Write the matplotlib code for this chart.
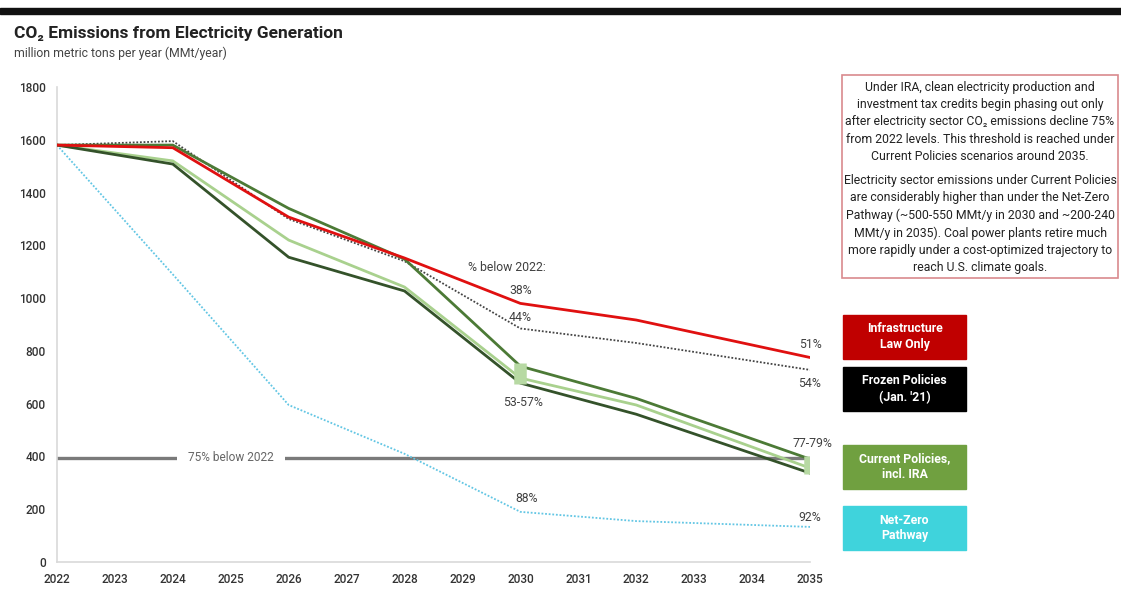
import matplotlib.pyplot as plt
from matplotlib.patches import Rectangle

plt.rcParams["font.family"] = ["Roboto", "DejaVu Sans"]

anos = [2022, 2024, 2026, 2028, 2030, 2032, 2035]
infra_ley = [1580, 1570, 1307, 1152, 980, 917, 775]
congeladas = [1580, 1595, 1300, 1140, 885, 830, 728]
actuales_alto = [1580, 1580, 1340, 1148, 742, 620, 390]
actuales_medio = [1580, 1520, 1220, 1042, 697, 595, 356]
actuales_bajo = [1580, 1508, 1155, 1027, 678, 560, 337]
cero_neto = [1580, 1090, 595, 410, 190, 155, 133]
umbral_75 = 395

fig = plt.figure(figsize=(11.21, 6.01), dpi=100)
ax = fig.add_axes([0.0508, 0.0649, 0.6718, 0.7903])

# franja negra superior
fig.patches.append(Rectangle((0, 0.976), 1, 0.011, transform=fig.transFigure,
                             color="#111111", zorder=0))

ax.plot([2022, 2035], [umbral_75, umbral_75], color="#7a7a7a", lw=2.4, zorder=1)
ax.text(2025, umbral_75, "75% below 2022", ha="center", va="center", fontsize=8.6,
        color="#666666", bbox=dict(facecolor="white", edgecolor="none", pad=8), zorder=2)

ax.plot(anos, cero_neto, color="#62c6e4", lw=1.3, ls=(0, (1, 1)), zorder=3)
ax.plot(anos, congeladas, color="#444444", lw=1.3, ls=(0, (1, 1)), zorder=3)
ax.plot(anos, actuales_alto, color="#4c7a36", lw=2.0, zorder=4)
ax.plot(anos, actuales_medio, color="#a9d18e", lw=2.0, zorder=4)
ax.plot(anos, actuales_bajo, color="#34522a", lw=2.0, zorder=4)
ax.plot(anos, infra_ley, color="#e01010", lw=2.0, zorder=5)

# rango de Current Policies en 2030 y 2035
for i in (4, 6):
    vals = [actuales_alto[i], actuales_medio[i], actuales_bajo[i]]
    ax.plot([anos[i], anos[i]], [min(vals) - 5, max(vals) + 12], color="#b7d9a3",
            lw=9, solid_capstyle="butt", zorder=6)

ax.set_xlim(2022, 2035)
ax.set_ylim(0, 1800)
ax.set_xticks(range(2022, 2036))
ax.set_yticks(range(0, 1801, 200))
ax.tick_params(length=0, labelsize=8.5, labelcolor="#333333", pad=8)
for lab in ax.get_xticklabels() + ax.get_yticklabels():
    lab.set_fontweight("medium")
for s in ("top", "right"):
    ax.spines[s].set_visible(False)
for s in ("left", "bottom"):
    ax.spines[s].set_color("#d9d9d9")
    ax.spines[s].set_linewidth(1.2)

tc = "#404040"
fs = 8.8
ax.text(2029.1, 1115, "% below 2022:", fontsize=fs, color=tc, ha="left", va="center")
ax.text(2030, 1030, "38%", fontsize=fs, color=tc, ha="center", va="center")
ax.text(2030, 928, "44%", fontsize=fs, color=tc, ha="center", va="center")
ax.text(2030.05, 605, "53-57%", fontsize=fs, color=tc, ha="center", va="center")
ax.text(2035, 825, "51%", fontsize=fs, color=tc, ha="center", va="center")
ax.text(2035, 675, "54%", fontsize=fs, color=tc, ha="center", va="center")
ax.text(2035.05, 450, "77-79%", fontsize=fs, color=tc, ha="center", va="center")
ax.text(2030.1, 240, "88%", fontsize=fs, color=tc, ha="center", va="center")
ax.text(2035, 170, "92%", fontsize=fs, color=tc, ha="center", va="center")

fig.text(0.0125, 0.945, "CO\u2082 Emissions from Electricity Generation", fontsize=12.5,
         fontweight="bold", color="#222222", va="center")
fig.text(0.0125, 0.912, "million metric tons per year (MMt/year)", fontsize=8.8,
         color="#444444", va="center")

# leyenda con recuadros de color
leyenda = [("Infrastructure\nLaw Only", "#c00000", 315),
           ("Frozen Policies\n(Jan. '21)", "#000000", 367),
           ("Current Policies,\nincl. IRA", "#70a040", 445),
           ("Net-Zero\nPathway", "#3fd3dc", 506)]
W, H = 1121, 601
for txt, col, top in leyenda:
    x0, x1, h = 843, 966, 44
    fig.patches.append(Rectangle((x0 / W, 1 - (top + h) / H), (x1 - x0) / W, h / H,
                                 transform=fig.transFigure, color=col, zorder=1))
    fig.text((x0 + x1) / 2 / W, 1 - (top + h / 2) / H, txt, ha="center", va="center",
             fontsize=8.8, fontweight="bold", color="white", linespacing=1.3)

# recuadro de nota
bx0, bx1, by0, by1 = 842, 1118, 75, 278
fig.patches.append(Rectangle((bx0 / W, 1 - by1 / H), (bx1 - bx0) / W, (by1 - by0) / H,
                             transform=fig.transFigure, facecolor="white",
                             edgecolor="#d98a8e", lw=1.2, zorder=1))
nota1 = ("Under IRA, clean electricity production and\n"
         "investment tax credits begin phasing out only\n"
         "after electricity sector CO\u2082 emissions decline 75%\n"
         "from 2022 levels. This threshold is reached under\n"
         "Current Policies scenarios around 2035.")
nota2 = ("Electricity sector emissions under Current Policies\n"
         "are considerably higher than under the Net-Zero\n"
         "Pathway (~500-550 MMt/y in 2030 and ~200-240\n"
         "MMt/y in 2035). Coal power plants retire much\n"
         "more rapidly under a cost-optimized trajectory to\n"
         "reach U.S. climate goals.")
cx = (bx0 + bx1) / 2 / W
fig.text(cx, 1 - 81 / H, nota1, ha="center", va="top", fontsize=8.8,
         color="#222222", linespacing=1.42)
fig.text(cx, 1 - 174 / H, nota2, ha="center", va="top", fontsize=8.8,
         color="#222222", linespacing=1.42)

fig.savefig("out.png", dpi=100)
